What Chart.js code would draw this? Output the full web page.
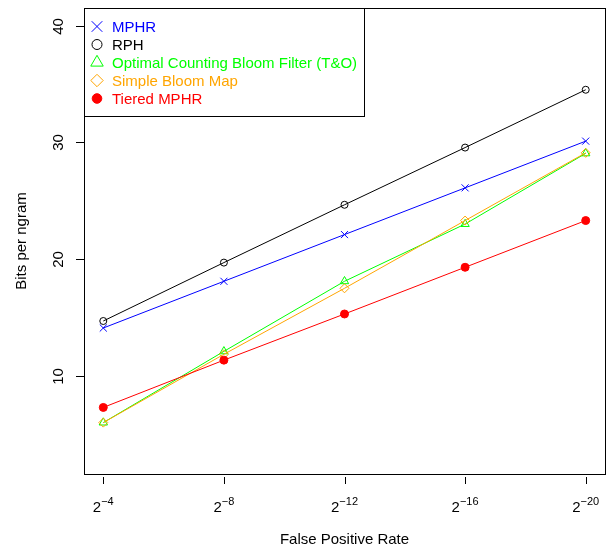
<!DOCTYPE html>
<html><head><meta charset="utf-8">
<script src="https://cdn.jsdelivr.net/npm/chart.js@4/dist/chart.umd.min.js"></script>
<style>html,body{margin:0;padding:0;background:#fff}</style>
</head><body>
<canvas id="c" width="614" height="546" style="display:block;width:614px;height:546px"></canvas>
<script>
// ---- data ----
const exponents = [4, 8, 12, 16, 20];           // False positive rate = 2^-k
const tickBase = "2";
const tickExponentLabels = ["\u22124", "\u22128", "\u221212", "\u221216", "\u221220"];
const yTicks = [10, 20, 30, 40];
const seriesNames = ["MPHR", "RPH", "Optimal Counting Bloom Filter (T&O)", "Simple Bloom Map", "Tiered MPHR"];
const mphr = [14.1, 18.1, 22.1, 26.1, 30.1];
const rph = [14.7, 19.7, 24.65, 29.55, 34.5];
const optimalCBF = [6.0, 12.1, 18.1, 23.0, 29.05];
const simpleBloomMap = [6.0, 11.85, 17.5, 23.3, 29.1];
const tieredMphr = [7.3, 11.35, 15.3, 19.3, 23.3];
const xTitle = "False Positive Rate";
const yTitle = "Bits per ngram";

// ---- styles ----
const FONT = '"Liberation Sans", Arial, Helvetica, sans-serif';
const styles = [
  {color: "#0000FF", pointStyle: "crossRot", radius: 5, fill: false},
  {color: "#000000", pointStyle: "circle", radius: 3.5, fill: false},
  {color: "#00FF00", pointStyle: "triangle", radius: 4.8, fill: false},
  {color: "#FFA500", pointStyle: "rectRot", radius: 4.5, fill: false},
  {color: "#FF0000", pointStyle: "circle", radius: 4, fill: true}
];
const seriesValues = [mphr, rph, optimalCBF, simpleBloomMap, tieredMphr];

const datasets = seriesValues.map((vals, i) => ({
  label: seriesNames[i],
  data: exponents.map((k, j) => ({x: k, y: vals[j]})),
  borderColor: styles[i].color,
  backgroundColor: styles[i].fill ? styles[i].color : "rgba(0,0,0,0)",
  pointBorderColor: styles[i].color,
  pointBackgroundColor: styles[i].fill ? styles[i].color : "rgba(0,0,0,0)",
  pointStyle: styles[i].pointStyle,
  pointRadius: styles[i].radius,
  pointHoverRadius: styles[i].radius,
  pointBorderWidth: 1,
  borderWidth: 1,
  tension: 0,
  fill: false,
  order: seriesValues.length - i
}));

function drawSymbol(ctx, style, x, y, r, color, filled) {
  ctx.save();
  ctx.strokeStyle = color; ctx.fillStyle = color; ctx.lineWidth = 1;
  ctx.beginPath();
  if (style === "circle") {
    ctx.arc(x, y, r, 0, Math.PI * 2);
  } else if (style === "crossRot") {
    const d = r * Math.SQRT1_2;
    ctx.moveTo(x - d, y - d); ctx.lineTo(x + d, y + d);
    ctx.moveTo(x - d, y + d); ctx.lineTo(x + d, y - d);
  } else if (style === "triangle") {
    ctx.moveTo(x, y - r);
    ctx.lineTo(x + r * Math.sin(Math.PI / 3), y + r / 2);
    ctx.lineTo(x - r * Math.sin(Math.PI / 3), y + r / 2);
    ctx.closePath();
  } else if (style === "rectRot") {
    ctx.moveTo(x, y - r); ctx.lineTo(x + r, y); ctx.lineTo(x, y + r); ctx.lineTo(x - r, y); ctx.closePath();
  }
  if (filled) ctx.fill();
  ctx.stroke();
  ctx.restore();
}

const decor = {
  id: "decor",
  afterDraw(chart) {
    const ctx = chart.ctx, a = chart.chartArea, xs = chart.scales.x, ys = chart.scales.y;
    ctx.save();
    ctx.strokeStyle = "#000"; ctx.lineWidth = 1;
    // box
    ctx.strokeRect(a.left + 0.5, a.top + 0.5, a.right - a.left, a.bottom - a.top);
    // y ticks + labels
    ctx.fillStyle = "#000";
    ctx.font = "15px " + FONT;
    yTicks.forEach(v => {
      const y = Math.round(ys.getPixelForValue(v)) + 0.5;
      ctx.beginPath(); ctx.moveTo(a.left - 8, y); ctx.lineTo(a.left, y); ctx.stroke();
      ctx.save();
      ctx.translate(a.left - 21, y);
      ctx.rotate(-Math.PI / 2);
      ctx.textAlign = "center"; ctx.textBaseline = "alphabetic";
      ctx.fillText(String(v), 0, 0);
      ctx.restore();
    });
    // x ticks + labels
    exponents.forEach((k, i) => {
      const x = Math.round(xs.getPixelForValue(k)) + 0.5;
      ctx.beginPath(); ctx.moveTo(x, a.bottom + 3); ctx.lineTo(x, a.bottom + 10); ctx.stroke();
      ctx.font = "15px " + FONT;
      const wb = ctx.measureText(tickBase).width;
      ctx.font = "11px " + FONT;
      const we = ctx.measureText(tickExponentLabels[i]).width;
      const x0 = xs.getPixelForValue(k) - (wb + we) / 2;
      ctx.textAlign = "left"; ctx.textBaseline = "alphabetic";
      ctx.font = "15px " + FONT;
      ctx.fillText(tickBase, x0, a.bottom + 38);
      ctx.font = "11px " + FONT;
      ctx.fillText(tickExponentLabels[i], x0 + wb, a.bottom + 31);
    });
    // axis titles
    ctx.font = "15px " + FONT;
    ctx.textAlign = "center";
    ctx.fillText(xTitle, (a.left + a.right) / 2, 544);
    ctx.save();
    ctx.translate(26, (a.top + a.bottom) / 2);
    ctx.rotate(-Math.PI / 2);
    ctx.fillText(yTitle, 0, 0);
    ctx.restore();
    // legend
    const lx = a.left, ly = a.top, lw = 280, lh = 108;
    ctx.fillStyle = "#fff";
    ctx.fillRect(lx + 1, ly + 1, lw - 1, lh - 1);
    ctx.strokeStyle = "#000";
    ctx.strokeRect(lx + 0.5, ly + 0.5, lw, lh);
    const legendR = [7.5, 5, 7.2, 6.2, 4.8];
    seriesNames.forEach((name, i) => {
      const cy = ly + 18.5 + 18 * i;
      drawSymbol(ctx, styles[i].pointStyle, lx + 13, cy, legendR[i], styles[i].color, styles[i].fill);
      ctx.fillStyle = styles[i].color;
      ctx.font = "15px " + FONT;
      ctx.textAlign = "left"; ctx.textBaseline = "alphabetic";
      ctx.fillText(name, lx + 28, cy + 5.5);
    });
    ctx.restore();
  }
};

new Chart(document.getElementById("c"), {
  type: "line",
  data: {datasets},
  options: {
    responsive: false,
    animation: false,
    events: [],
    layout: {padding: {left: 84, right: 9, top: 8, bottom: 72}},
    plugins: {legend: {display: false}, tooltip: {enabled: false}},
    scales: {
      x: {type: "linear", min: 3.36, max: 20.64, display: false},
      y: {type: "linear", min: 1.6, max: 41.5, display: false}
    }
  },
  plugins: [decor]
});
</script>
</body></html>
